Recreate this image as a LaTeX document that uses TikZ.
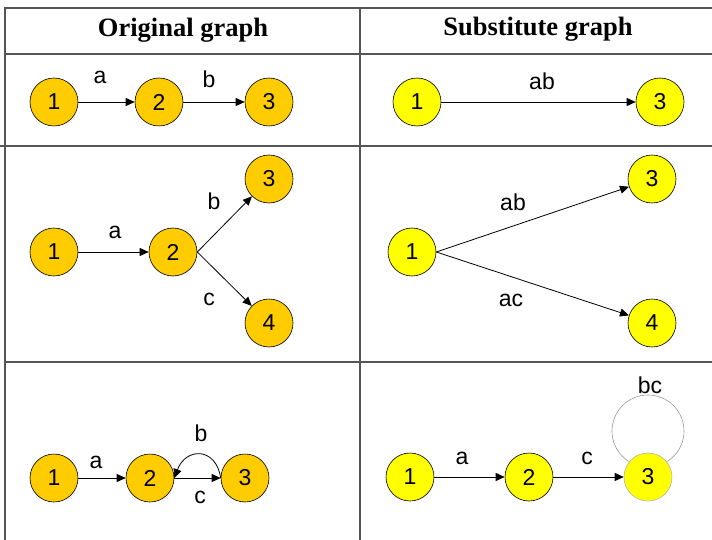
\documentclass[tikz,border=0pt]{standalone}
\usepackage{fontspec}
\setmainfont{Liberation Serif}
\newfontfamily\arialfont{Liberation Sans}
\usetikzlibrary{arrows.meta,backgrounds}
\definecolor{gold}{HTML}{FFCC00}
\definecolor{yel}{HTML}{FFFF00}
\definecolor{rule}{HTML}{555555}
\tikzset{
  vtx/.style={circle,draw=black,line width=0.6pt,minimum size=48pt,inner sep=0pt,
    font=\arialfont\fontsize{23}{23}\selectfont},
  og/.style={vtx,fill=gold},
  sg/.style={vtx,fill=yel},
  edge/.style={draw=black,line width=0.8pt,-{Triangle[length=9pt,width=8pt]}},
  elab/.style={inner sep=0pt,font=\arialfont\fontsize{23}{23}\selectfont},
  tline/.style={draw=rule,line width=1.2pt},
  head/.style={font=\bfseries\fontsize{26.5}{30}\selectfont},
  loopline/.style={draw=gray!80,line width=0.6pt}
}
\begin{document}
\begin{tikzpicture}[x=1pt,y=-1pt]
\useasboundingbox (0,0) rectangle (712,540);
% table
\draw[tline] (4,8) -- (712,8);
\draw[tline] (5,8) -- (5,540);
\draw[tline] (360,8) -- (360,540);
\draw[tline] (5,54) -- (712,54);
\draw[tline] (0,146) -- (712,146);
\draw[tline] (5,362) -- (712,362);
% headers
\node[head] (h1) at (183,30) {Original graph};
\node[head] (h2) at (538,29) {Substitute graph};
% row 1 left
\node[og] (a1) at (54,102) {1};
\node[og] (a2) at (159,102) {2};
\node[og] (a3) at (269,102) {3};
\draw[edge] (a1) -- (a2);
\draw[edge] (a2) -- (a3);
\node[elab] (la1) at (100,77) {a};
\node[elab] (la2) at (209,79) {b};
% row 1 right
\node[sg] (b1) at (417,102) {1};
\node[sg] (b3) at (660,102) {3};
\draw[edge] (b1) -- (b3);
\node[elab] (lb1) at (542,81) {ab};
% row 2 left
\node[og] (c1) at (54,252) {1};
\node[og] (c2) at (173,252) {2};
\node[og] (c3) at (269,179) {3};
\node[og] (c4) at (269,323) {4};
\draw[edge] (c1) -- (c2);
\draw[edge] (c2.east) -- (c3);
\draw[edge] (c2.east) -- (c4);
\node[elab] (lc1) at (115,232) {a};
\node[elab] (lc2) at (214,201) {b};
\node[elab] (lc3) at (209,299) {c};
% row 2 right
\node[sg] (d1) at (412,252) {1};
\node[sg] (d3) at (652,179) {3};
\node[sg] (d4) at (652,323) {4};
\draw[edge] (d1.east) -- (d3);
\draw[edge] (d1.east) -- (d4);
\node[elab] (ld1) at (513,202) {ab};
\node[elab] (ld2) at (511,300) {ac};
% row 3 left
\node[og] (e1) at (54,478) {1};
\node[og] (e2) at (150,478) {2};
\node[og] (e3) at (245,478) {3};
\draw[edge] (e1) -- (e2);
\draw[edge] (e2.east) -- (e3.west);
\draw[edge] (e3.west) .. controls (216,447) and (186,447) .. (e2.east);
\node[elab] (le1) at (96,462) {a};
\node[elab] (le2) at (201,433) {b};
\node[elab] (le3) at (200,497) {c};
% row 3 right
\node[sg] (f1) at (410,477) {1};
\node[sg] (f2) at (529,477) {2};
\node[sg,draw=gray!60] (f3) at (648,477) {3};
\begin{scope}[on background layer]
\draw[loopline] (f3.center) ++(0,-46) circle[radius=36];
\end{scope}
\draw[edge] (f1) -- (f2);
\draw[edge] (f2) -- (f3);
\node[elab] (lf1) at (462,458) {a};
\node[elab] (lf2) at (587,458) {c};
\node[elab] (lf3) at (650,385) {bc};
\end{tikzpicture}
\end{document}
